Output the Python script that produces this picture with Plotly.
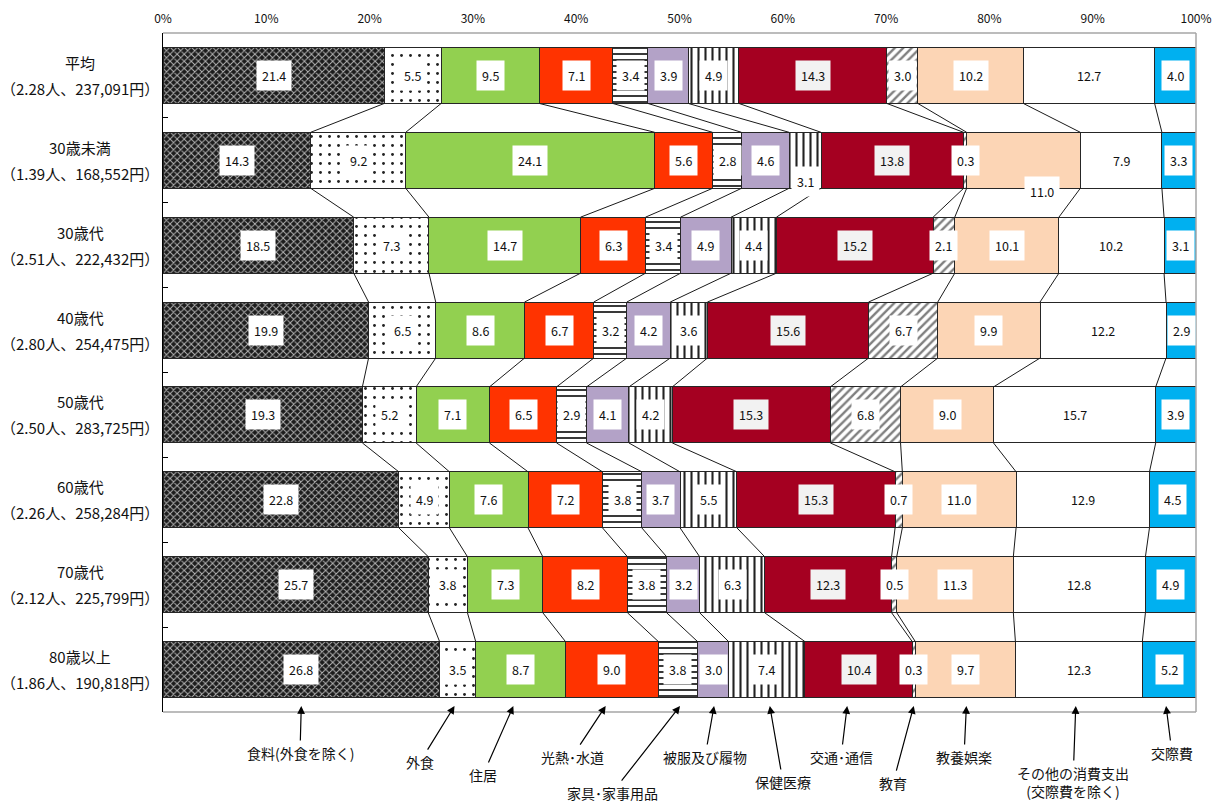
import plotly.graph_objects as go

# Household groups (rows, top to bottom)
groups = ["平均", "30歳未満", "30歳代", "40歳代", "50歳代", "60歳代", "70歳代", "80歳以上"]
group_notes = ["（2.28人、237,091円）", "（1.39人、168,552円）", "（2.51人、222,432円）",
               "（2.80人、254,475円）", "（2.50人、283,725円）", "（2.26人、258,284円）",
               "（2.12人、225,799円）", "（1.86人、190,818円）"]

# Expense categories (stack order, left to right)
categories = ["食料(外食を除く)", "外食", "住居", "光熱･水道", "家具･家事用品", "被服及び履物",
              "保健医療", "交通･通信", "教育", "教養娯楽", "その他の消費支出<br>(交際費を除く)", "交際費"]

# Share of consumption expenditure (%) per group
food = [21.4, 14.3, 18.5, 19.9, 19.3, 22.8, 25.7, 26.8]
eating_out = [5.5, 9.2, 7.3, 6.5, 5.2, 4.9, 3.8, 3.5]
housing = [9.5, 24.1, 14.7, 8.6, 7.1, 7.6, 7.3, 8.7]
utilities = [7.1, 5.6, 6.3, 6.7, 6.5, 7.2, 8.2, 9.0]
furniture = [3.4, 2.8, 3.4, 3.2, 2.9, 3.8, 3.8, 3.8]
clothing = [3.9, 4.6, 4.9, 4.2, 4.1, 3.7, 3.2, 3.0]
medical = [4.9, 3.1, 4.4, 3.6, 4.2, 5.5, 6.3, 7.4]
transport = [14.3, 13.8, 15.2, 15.6, 15.3, 15.3, 12.3, 10.4]
education = [3.0, 0.3, 2.1, 6.7, 6.8, 0.7, 0.5, 0.3]
recreation = [10.2, 11.0, 10.1, 9.9, 9.0, 11.0, 11.3, 9.7]
other = [12.7, 7.9, 10.2, 12.2, 15.7, 12.9, 12.8, 12.3]
social = [4.0, 3.3, 3.1, 2.9, 3.9, 4.5, 4.9, 5.2]

series = [food, eating_out, housing, utilities, furniture, clothing,
          medical, transport, education, recreation, other, social]

# Fill styles: (background colour, pattern shape, pattern colour, pattern size, solidity)
styles = [
    ("#1c1c1c", "x", "#b4b4b4", 5, 0.35),
    ("#ffffff", ".", "#222222", 9, 0.08),
    ("#92d050", "", None, None, None),
    ("#ff3300", "", None, None, None),
    ("#ffffff", "-", "#222222", 6, 0.3),
    ("#b3a2c7", "", None, None, None),
    ("#ffffff", "|", "#222222", 7, 0.3),
    ("#a50021", "", None, None, None),
    ("#ffffff", "/", "#7f7f7f", 6, 0.4),
    ("#fcd5b5", "", None, None, None),
    ("#ffffff", "", None, None, None),
    ("#00b0f0", "", None, None, None),
]

FONT = "Noto Sans CJK JP"
TEXT = "#111111"
rows = list(range(len(groups)))
BAR_W = 0.66

fig = go.Figure()
for name, vals, (bg, shape, fg, size, sol) in zip(categories, series, styles):
    pattern = dict(shape=shape)
    if shape:
        pattern.update(fgcolor=fg, bgcolor=bg, size=size, solidity=sol, fillmode="replace")
    fig.add_trace(go.Bar(
        y=rows, x=vals, orientation="h", name=name, width=BAR_W,
        marker=dict(color=bg, pattern=pattern, line=dict(color="#262626", width=1)),
        hoverinfo="skip", showlegend=False,
    ))

# Normalised cumulative shares (same as barnorm='percent')
totals = [sum(s[r] for s in series) for r in rows]
cum_end = []
for r in rows:
    acc, ends = 0.0, []
    for s in series:
        acc += s[r] / totals[r] * 100
        ends.append(acc)
    cum_end.append(ends)

# Series lines joining each segment boundary between neighbouring bars
lx, ly = [], []
for k in range(len(series) - 1):
    for r in rows[:-1]:
        lx += [cum_end[r][k], cum_end[r + 1][k], None]
        ly += [r + BAR_W / 2, r + 1 - BAR_W / 2, None]
fig.add_trace(go.Scatter(x=lx, y=ly, mode="lines", line=dict(color="#1a1a1a", width=1),
                         hoverinfo="skip", showlegend=False))

# Value labels in boxes
label_shift = {(1, 6): (0, -21), (1, 9): (19, -31)}
annotations = []
for r in rows:
    start = 0.0
    for k, s in enumerate(series):
        end = cum_end[r][k]
        dx, dy = label_shift.get((r, k), (0, 0))
        annotations.append(dict(
            x=(start + end) / 2, y=r, xref="x", yref="y", text=f"{s[r]:.1f}",
            showarrow=False, font=dict(family=FONT, size=12.5, color=TEXT),
            bgcolor="#f2f2f2" if k == 7 else "#ffffff", borderpad=5,
            xshift=dx, yshift=dy,
        ))
        start = end

# Row titles (two lines each)
for r in rows:
    annotations.append(dict(x=-0.08, y=r, xref="paper", yref="y", text=groups[r],
                            showarrow=False, yshift=13, xanchor="center",
                            font=dict(family=FONT, size=15, color=TEXT)))
    annotations.append(dict(x=-0.08, y=r, xref="paper", yref="y", text=group_notes[r],
                            showarrow=False, yshift=-13, xanchor="center",
                            font=dict(family=FONT, size=15, color=TEXT)))

# Category call-outs below the chart, pointing at the last bar
PX0, PX_PER = 163, 10.33
callout_pos = [(300, 753), (420, 762), (483, 775), (572, 757), (612, 793), (705, 757),
               (783, 782), (841, 757), (893, 783), (964, 757), (1073, 782), (1172, 753)]
head_dx = [0, -0.3, -0.7, -0.6, 0.2, 0.1, 0.3, -1.1, 0, 0.1, -0.3, -0.3]
HEAD_PX = 706
last = rows[-1]
start = 0.0
for k, name in enumerate(categories):
    end = cum_end[last][k]
    head_x = (start + end) / 2 + head_dx[k]
    lab_px, lab_py = callout_pos[k]
    annotations.append(dict(
        x=head_x, y=7.5 - (712 - HEAD_PX) / 84.875, xref="x", yref="y",
        text=name, showarrow=True, arrowhead=2, arrowsize=1.3, arrowwidth=1.2,
        arrowcolor="#000000", axref="x", ax=(lab_px - PX0) / PX_PER,
        ayref="pixel", ay=lab_py - HEAD_PX,
        font=dict(family=FONT, size=14, color=TEXT), standoff=0, startstandoff=1,
    ))
    start = end

# Plot frame (top, right, bottom) in grey
shapes = [
    dict(type="line", xref="paper", yref="paper", x0=0, x1=1, y0=1, y1=1,
         line=dict(color="#a6a6a6", width=1.5)),
    dict(type="line", xref="paper", yref="paper", x0=1, x1=1, y0=0, y1=1,
         line=dict(color="#a6a6a6", width=1.5)),
    dict(type="line", xref="paper", yref="paper", x0=0, x1=1, y0=0, y1=0,
         line=dict(color="#a6a6a6", width=1.5)),
]

fig.update_layout(
    width=1221, height=802,
    margin=dict(l=163, r=25, t=33, b=90, autoexpand=False),
    barmode="stack", barnorm="percent",
    plot_bgcolor="#ffffff", paper_bgcolor="#ffffff",
    annotations=annotations, shapes=shapes,
    xaxis=dict(side="top", range=[0, 100], tickvals=list(range(0, 101, 10)),
               ticktext=[f"{v}%" for v in range(0, 101, 10)], showgrid=False,
               zeroline=False, showline=False, ticks="", ticklabelstandoff=7,
               automargin=False,
               tickfont=dict(family=FONT, size=12, color=TEXT)),
    yaxis=dict(range=[7.5, -0.5], tickvals=[r + 0.5 for r in range(-1, 8)],
               showticklabels=False, ticks="inside", ticklen=5, tickcolor="#000000",
               showline=True, linecolor="#000000", linewidth=1, showgrid=False,
               zeroline=False, automargin=False),
    font=dict(family=FONT),
)

fig.write_html("out.html")
